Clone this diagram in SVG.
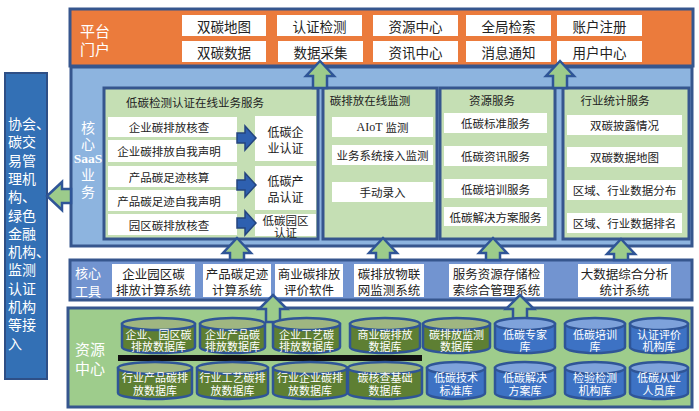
<svg xmlns="http://www.w3.org/2000/svg" width="699" height="411" viewBox="0 0 699 411">
<defs>
<style>
text{font-family:"Noto Sans CJK SC","Noto Sans",sans-serif;dominant-baseline:central;}
.bx{fill:#ffffff;stroke:none;}
.pn{fill:#C5DFB4;stroke:#36568E;stroke-width:3;}
.t{font-size:11.5px;fill:#222;text-anchor:middle;}
.tp{font-size:13.5px;fill:#222;text-anchor:middle;}
.tt{font-size:12.5px;fill:#222;text-anchor:middle;}
.tw{font-size:14px;fill:#fff;text-anchor:middle;}
.tl{font-size:14px;fill:#fff;}
.tc{font-size:11px;fill:#fff;text-anchor:middle;}
.cg{fill:#5E7F33;stroke:#2F5597;stroke-width:2.5;}
.cgt{fill:#9FB681;stroke:#2F5597;stroke-width:2.5;}
.cb{fill:#3D72C4;stroke:#2F5597;stroke-width:2.5;}
.cbt{fill:#7EA2DB;stroke:#2F5597;stroke-width:2.5;}
.ga{fill:#9CCB8B;stroke:#2F5597;stroke-width:2.5;stroke-linejoin:miter;}
.ba{fill:#2E60B0;stroke:#24447E;stroke-width:1.5;}
</style>
</defs>
<rect x="0" y="0" width="699" height="411" fill="#ffffff"/>

<g id="left-box">
<rect x="5" y="73" width="42" height="306" fill="#3370B5" stroke="#2E4F86" stroke-width="2"/>
<text class="tl" x="8" y="123"><tspan x="8">协会、</tspan><tspan x="8" dy="18.3">碳交</tspan><tspan x="8" dy="18.3">易管</tspan><tspan x="8" dy="18.3">理机</tspan><tspan x="8" dy="18.3">构、</tspan><tspan x="8" dy="18.3">绿色</tspan><tspan x="8" dy="18.3">金融</tspan><tspan x="8" dy="18.3">机构、</tspan><tspan x="8" dy="18.3">监测</tspan><tspan x="8" dy="18.3">认证</tspan><tspan x="8" dy="18.3">机构</tspan><tspan x="8" dy="18.3">等接</tspan><tspan x="8" dy="18.3">入</tspan></text>
</g>

<g id="platform">
<rect x="70" y="9" width="623" height="57" fill="#EB7B3C" stroke="#36568E" stroke-width="3"/>
<text class="tl" x="80" y="30" style="font-size:15px"><tspan x="80">平台</tspan><tspan x="80" dy="18">门户</tspan></text>
<rect class="bx" x="182" y="15" width="84" height="21"/><text class="tp" x="224" y="25.5">双碳地图</text>
<rect class="bx" x="277" y="15" width="85" height="21"/><text class="tp" x="319.5" y="25.5">认证检测</text>
<rect class="bx" x="373" y="15" width="85" height="21"/><text class="tp" x="415.5" y="25.5">资源中心</text>
<rect class="bx" x="466" y="15" width="85" height="21"/><text class="tp" x="508.5" y="25.5">全局检索</text>
<rect class="bx" x="557" y="15" width="85" height="21"/><text class="tp" x="599.5" y="25.5">账户注册</text>
<rect class="bx" x="182" y="41" width="84" height="21"/><text class="tp" x="224" y="51.5">双碳数据</text>
<rect class="bx" x="278" y="41" width="85" height="21"/><text class="tp" x="320.5" y="51.5">数据采集</text>
<rect class="bx" x="373" y="41" width="85" height="21"/><text class="tp" x="415.5" y="51.5">资讯中心</text>
<rect class="bx" x="466" y="41" width="85" height="21"/><text class="tp" x="508.5" y="51.5">消息通知</text>
<rect class="bx" x="557" y="41" width="85" height="21"/><text class="tp" x="599.5" y="51.5">用户中心</text>
</g>

<g id="saas">
<rect x="71" y="67" width="621" height="179" fill="#8DB4DF" stroke="#36568E" stroke-width="3"/>
<text class="tw" x="88" y="127"><tspan x="88">核</tspan><tspan x="88" dy="16">心</tspan><tspan x="88" dy="15" style="font-family:'Liberation Serif',serif;font-size:13.5px;font-weight:bold">SaaS</tspan><tspan x="88" dy="16">业</tspan><tspan x="88" dy="17">务</tspan></text>
</g>

<g id="cert-service">
<rect class="pn" x="104" y="88" width="214" height="151"/>
<text class="t" x="195" y="102">低碳检测认证在线业务服务</text>
<rect class="bx" x="108" y="117" width="129" height="20"/><text class="t" x="169" y="127">企业碳排放核查</text>
<rect class="bx" x="108" y="140" width="129" height="22"/><text class="t" x="169" y="151">企业碳排放自我声明</text>
<rect class="bx" x="108" y="166" width="129" height="21"/><text class="t" x="169" y="176.5">产品碳足迹核算</text>
<rect class="bx" x="108" y="190" width="129" height="21"/><text class="t" x="169" y="200.5">产品碳足迹自我声明</text>
<rect class="bx" x="108" y="214" width="129" height="21"/><text class="t" x="169" y="224.5">园区碳排放核查</text>
<rect class="bx" x="255" y="116" width="61" height="45"/><text class="t" x="285.5" y="131" style="font-size:12px"><tspan x="285.5">低碳企</tspan><tspan x="285.5" dy="16">业认证</tspan></text>
<rect class="bx" x="255" y="166" width="61" height="44"/><text class="t" x="285.5" y="180" style="font-size:12px"><tspan x="285.5">低碳产</tspan><tspan x="285.5" dy="16">品认证</tspan></text>
<rect class="bx" x="255" y="214" width="61" height="22"/><text class="t" x="285.5" y="219.5"><tspan x="285.5">低碳园区</tspan><tspan x="285.5" dy="12.5">认证</tspan></text>
</g>

<g id="monitor-service">
<rect class="pn" x="323" y="88" width="114" height="151"/>
<text class="t" x="370" y="100">碳排放在线监测</text>
<rect class="bx" x="332" y="117" width="101" height="20"/><text class="t" x="382.5" y="127"><tspan style="font-family:'Liberation Serif',serif;font-size:12px">AIoT </tspan>监测</text>
<rect class="bx" x="332" y="145" width="101" height="20"/><text class="t" x="382.5" y="155">业务系统接入监测</text>
<rect class="bx" x="332" y="182" width="101" height="20"/><text class="t" x="382.5" y="192">手动录入</text>
</g>

<g id="resource-service">
<rect class="pn" x="440" y="88" width="115" height="151"/>
<text class="t" x="492" y="100">资源服务</text>
<rect class="bx" x="444" y="113" width="103" height="20"/><text class="t" x="495.5" y="123">低碳标准服务</text>
<rect class="bx" x="444" y="146" width="103" height="20"/><text class="t" x="495.5" y="156">低碳资讯服务</text>
<rect class="bx" x="444" y="179" width="103" height="19"/><text class="t" x="495.5" y="188.5">低碳培训服务</text>
<rect class="bx" x="444" y="207" width="103" height="19"/><text class="t" x="495.5" y="216.5">低碳解决方案服务</text>
</g>

<g id="stats-service">
<rect class="pn" x="563" y="88" width="126" height="151"/>
<text class="t" x="615" y="100">行业统计服务</text>
<rect class="bx" x="567" y="115" width="115" height="20"/><text class="t" x="624.5" y="125">双碳披露情况</text>
<rect class="bx" x="567" y="147" width="115" height="20"/><text class="t" x="624.5" y="157">双碳数据地图</text>
<rect class="bx" x="567" y="180" width="115" height="20"/><text class="t" x="624.5" y="190">区域、行业数据分布</text>
<rect class="bx" x="567" y="213" width="115" height="20"/><text class="t" x="624.5" y="223">区域、行业数据排名</text>
</g>

<g id="core-tools">
<rect x="70" y="260" width="622" height="40" fill="#7294D0" stroke="#36568E" stroke-width="3"/>
<text class="tw" x="88" y="272" style="font-size:13px"><tspan x="88">核心</tspan><tspan x="88" dy="18">工具</tspan></text>
<rect class="bx" x="112" y="264" width="83" height="33"/><text class="tt" x="153.5" y="273"><tspan x="153.5">企业园区碳</tspan><tspan x="153.5" dy="16">排放计算系统</tspan></text>
<rect class="bx" x="203" y="264" width="68" height="33"/><text class="tt" x="237" y="273"><tspan x="237">产品碳足迹</tspan><tspan x="237" dy="16">计算系统</tspan></text>
<rect class="bx" x="275" y="264" width="68" height="33"/><text class="tt" x="309" y="273"><tspan x="309">商业碳排放</tspan><tspan x="309" dy="16">评价软件</tspan></text>
<rect class="bx" x="354" y="264" width="70" height="33"/><text class="tt" x="389" y="273"><tspan x="389">碳排放物联</tspan><tspan x="389" dy="16">网监测系统</tspan></text>
<rect class="bx" x="449" y="264" width="95" height="33"/><text class="tt" x="496.5" y="273"><tspan x="496.5">服务资源存储检</tspan><tspan x="496.5" dy="16">索综合管理系统</tspan></text>
<rect class="bx" x="578" y="264" width="93" height="33"/><text class="tt" x="624.5" y="273"><tspan x="624.5">大数据综合分析</tspan><tspan x="624.5" dy="16">统计系统</tspan></text>
</g>

<g id="resource-center">
<rect x="68" y="308" width="624" height="99" fill="#9ECC8C" stroke="#36568E" stroke-width="3"/>
<text class="tl" x="75" y="348" style="font-size:15px"><tspan x="75">资源</tspan><tspan x="75" dy="19">中心</tspan></text>
<rect x="118" y="355" width="304" height="6" fill="#111"/>
</g>

<g id="connectors">
<path class="ba" d="M237,133 H245 V126 L256,138 L245,150 V143 H237 Z"/>
<path class="ba" d="M237,180 H245 V173 L256,185 L245,197 V190 H237 Z"/>
<path class="ba" d="M237,218 H245 V211 L256,223 L245,235 V228 H237 Z"/>
<path class="ga" d="M237,238 L251,253 H244 V260 H230 V253 H223 Z"/>
<path class="ga" d="M383,238 L397,253 H390 V260 H376 V253 H369 Z"/>
<path class="ga" d="M493,238 L507,253 H500 V260 H486 V253 H479 Z"/>
<path class="ga" d="M621,239 L635,254 H628 V260 H614 V254 H607 Z"/>
<path class="ga" d="M273,295 L287,309 H280 V322 H266 V309 H259 Z"/>
<path class="ga" d="M520,295 L534,309 H527 V322 H513 V309 H506 Z"/>
<path class="ga" d="M320,61 L334,76 H327 V88 H313 V76 H306 Z"/>
<path class="ga" d="M560,61 L574,76 H567 V88 H553 V76 H546 Z"/>
<path class="ga" d="M47,196 L62,182 V189 H71 V203 H62 V210 Z"/>
</g>

<g id="db-row1">
<g id="db-1"><path class="cg" d="M122,324 V347 A36.5,6 0 0 0 195,347 V324 Z"/><ellipse class="cgt" cx="158.5" cy="324" rx="36.5" ry="6"/><text class="tc" x="158.5" y="333.5"><tspan x="158.5">企业、园区碳</tspan><tspan x="158.5" dy="12.5">排放数据库</tspan></text></g>
<g id="db-2"><path class="cg" d="M200,324 V347 A32.5,6 0 0 0 265,347 V324 Z"/><ellipse class="cgt" cx="232.5" cy="324" rx="32.5" ry="6"/><text class="tc" x="232.5" y="333.5"><tspan x="232.5">企业产品碳</tspan><tspan x="232.5" dy="12.5">排放数据库</tspan></text></g>
<g id="db-3"><path class="cg" d="M273,324 V347 A33.5,6 0 0 0 340,347 V324 Z"/><ellipse class="cgt" cx="306.5" cy="324" rx="33.5" ry="6"/><text class="tc" x="306.5" y="333.5"><tspan x="306.5">企业工艺碳</tspan><tspan x="306.5" dy="12.5">排放数据库</tspan></text></g>
<g id="db-4"><path class="cg" d="M350,324 V347 A35,6 0 0 0 420,347 V324 Z"/><ellipse class="cgt" cx="385" cy="324" rx="35" ry="6"/><text class="tc" x="385" y="333.5"><tspan x="385">商业碳排放</tspan><tspan x="385" dy="12.5">数据库</tspan></text></g>
<g id="db-5"><path class="cg" d="M423,324 V347 A33.5,6 0 0 0 490,347 V324 Z"/><ellipse class="cgt" cx="456.5" cy="324" rx="33.5" ry="6"/><text class="tc" x="456.5" y="333.5"><tspan x="456.5">碳排放监测</tspan><tspan x="456.5" dy="12.5">数据库</tspan></text></g>
<g id="db-6"><path class="cb" d="M495,324 V347 A30,6 0 0 0 555,347 V324 Z"/><ellipse class="cbt" cx="525" cy="324" rx="30" ry="6"/><text class="tc" x="525" y="333.5"><tspan x="525">低碳专家</tspan><tspan x="525" dy="12.5">库</tspan></text></g>
<g id="db-7"><path class="cb" d="M565,324 V347 A30,6 0 0 0 625,347 V324 Z"/><ellipse class="cbt" cx="595" cy="324" rx="30" ry="6"/><text class="tc" x="595" y="333.5"><tspan x="595">低碳培训</tspan><tspan x="595" dy="12.5">库</tspan></text></g>
<g id="db-8"><path class="cb" d="M630,324 V347 A29,6 0 0 0 688,347 V324 Z"/><ellipse class="cbt" cx="659" cy="324" rx="29" ry="6"/><text class="tc" x="659" y="333.5"><tspan x="659">认证评价</tspan><tspan x="659" dy="12.5">机构库</tspan></text></g>
</g>

<g id="db-row2">
<g id="db-9"><path class="cg" d="M118,368 V393 A37,6 0 0 0 192,393 V368 Z"/><ellipse class="cgt" cx="155" cy="368" rx="37" ry="6"/><text class="tc" x="155" y="377"><tspan x="155">行业产品碳排</tspan><tspan x="155" dy="12.5">放数据库</tspan></text></g>
<g id="db-10"><path class="cg" d="M197,368 V393 A35.5,6 0 0 0 268,393 V368 Z"/><ellipse class="cgt" cx="232.5" cy="368" rx="35.5" ry="6"/><text class="tc" x="232.5" y="377"><tspan x="232.5">行业工艺碳排</tspan><tspan x="232.5" dy="12.5">放数据库</tspan></text></g>
<g id="db-11"><path class="cg" d="M273,368 V393 A37,6 0 0 0 347,393 V368 Z"/><ellipse class="cgt" cx="310" cy="368" rx="37" ry="6"/><text class="tc" x="310" y="377"><tspan x="310">行业企业碳排</tspan><tspan x="310" dy="12.5">放数据库</tspan></text></g>
<g id="db-12"><path class="cg" d="M348,368 V393 A37,6 0 0 0 422,393 V368 Z"/><ellipse class="cgt" cx="385" cy="368" rx="37" ry="6"/><text class="tc" x="385" y="377"><tspan x="385">碳核查基础</tspan><tspan x="385" dy="12.5">数据库</tspan></text></g>
<g id="db-13"><path class="cb" d="M427,368 V393 A29,6 0 0 0 485,393 V368 Z"/><ellipse class="cbt" cx="456" cy="368" rx="29" ry="6"/><text class="tc" x="456" y="377"><tspan x="456">低碳技术</tspan><tspan x="456" dy="12.5">标准库</tspan></text></g>
<g id="db-14"><path class="cb" d="M495,368 V393 A30,6 0 0 0 555,393 V368 Z"/><ellipse class="cbt" cx="525" cy="368" rx="30" ry="6"/><text class="tc" x="525" y="377"><tspan x="525">低碳解决</tspan><tspan x="525" dy="12.5">方案库</tspan></text></g>
<g id="db-15"><path class="cb" d="M565,368 V393 A30,6 0 0 0 625,393 V368 Z"/><ellipse class="cbt" cx="595" cy="368" rx="30" ry="6"/><text class="tc" x="595" y="377"><tspan x="595">检验检测</tspan><tspan x="595" dy="12.5">机构库</tspan></text></g>
<g id="db-16"><path class="cb" d="M630,368 V393 A29,6 0 0 0 688,393 V368 Z"/><ellipse class="cbt" cx="659" cy="368" rx="29" ry="6"/><text class="tc" x="659" y="377"><tspan x="659">低碳从业</tspan><tspan x="659" dy="12.5">人员库</tspan></text></g>
</g>
</svg>
